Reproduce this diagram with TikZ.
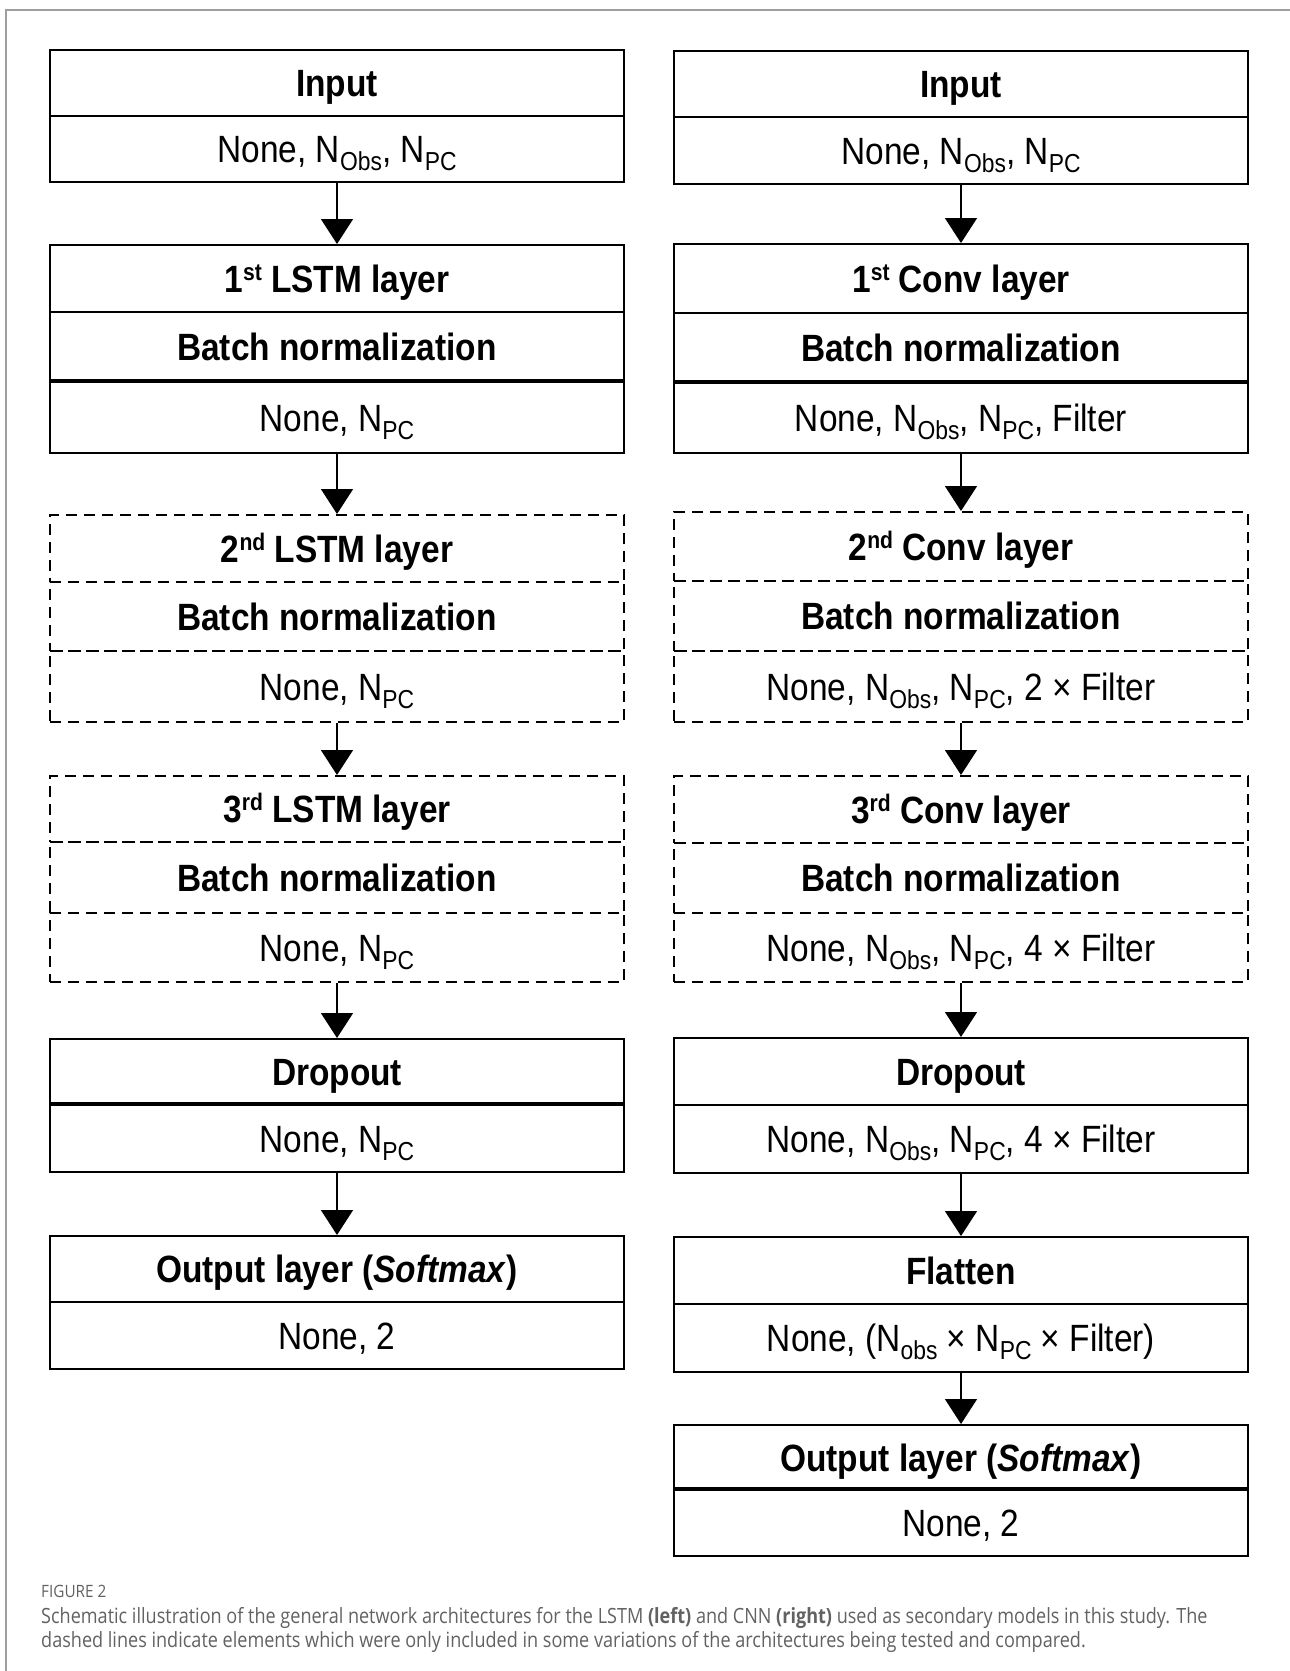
\documentclass[tikz,border=0pt]{standalone}
\usepackage{fontspec}
\setmainfont{Liberation Sans}[FakeStretch=0.88]
\newfontfamily\capfont{Open Sans}[FakeStretch=0.86]
\newfontfamily\figfont{Open Sans}[FakeStretch=0.9]
\usetikzlibrary{arrows.meta}
\newcommand{\mysub}[1]{\raisebox{-8pt}{\fontsize{26}{26}\selectfont #1}}
\newcommand{\mysup}[1]{\raisebox{12pt}{\fontsize{24}{24}\selectfont #1}}
\definecolor{capgray}{HTML}{626262}
\tikzset{
  cell/.style={draw, line width=2pt, inner sep=0pt, minimum width=574pt, anchor=north west,
    text height=30pt, text depth=3pt, align=center, font=\fontsize{38}{40}\selectfont},
  hd/.style={cell, font=\fontsize{38}{40}\selectfont\bfseries},
  dsh/.style={dash pattern=on 11pt off 7pt},
  divider/.style={line width=3.2pt},
  arr/.style={-{Triangle[width=32pt,length=25pt]}, line width=1.6pt},
  captext/.style={anchor=base west, inner sep=0pt, text=capgray, font=\capfont\fontsize{21}{24}\selectfont},
}
\begin{document}
\begin{tikzpicture}[x=1pt,y=-1pt]
\useasboundingbox (0,0) rectangle (1290,1671);
\draw[gray!75, line width=1.2pt] (6,1671) -- (6,10) -- (1290,10);

% ---------------- Left column (LSTM) ----------------
\node[hd, minimum height=66pt] (LIa) at (49,49) {Input};
\node[cell, minimum height=66pt] (LIb) at (49,115) {None, N\mysub{Obs}, N\mysub{PC}};

\node[hd, minimum height=67pt] (L1a) at (49,244) {1\mysup{st} LSTM layer};
\node[hd, minimum height=70pt] (L1b) at (49,311) {Batch normalization};
\node[cell, minimum height=71pt] (L1c) at (49,381) {None, N\mysub{PC}};
\draw[divider] (L1c.north west) -- (L1c.north east);

\node[hd, dsh, minimum height=67pt] (L2a) at (49,514) {2\mysup{nd} LSTM layer};
\node[hd, dsh, minimum height=69pt] (L2b) at (49,581) {Batch normalization};
\node[cell, dsh, minimum height=71pt] (L2c) at (49,650) {None, N\mysub{PC}};

\node[hd, dsh, minimum height=66pt] (L3a) at (49,775) {3\mysup{rd} LSTM layer};
\node[hd, dsh, minimum height=71pt] (L3b) at (49,841) {Batch normalization};
\node[cell, dsh, minimum height=69pt] (L3c) at (49,912) {None, N\mysub{PC}};

\node[hd, minimum height=66pt] (LDa) at (49,1038) {Dropout};
\node[cell, minimum height=67pt] (LDb) at (49,1104) {None, N\mysub{PC}};
\draw[divider] (LDb.north west) -- (LDb.north east);

\node[hd, minimum height=66pt] (LOa) at (49,1235) {Output layer (\textit{Softmax})};
\node[cell, minimum height=67pt] (LOb) at (49,1301) {None, 2};

\draw[arr] (LIb.south) -- (L1a.north);
\draw[arr] (L1c.south) -- (L2a.north);
\draw[arr] (L2c.south) -- (L3a.north);
\draw[arr] (L3c.south) -- (LDa.north);
\draw[arr] (LDb.south) -- (LOa.north);

% ---------------- Right column (CNN) ----------------
\node[hd, minimum height=66pt] (RIa) at (673,50) {Input};
\node[cell, minimum height=67pt] (RIb) at (673,116) {None, N\mysub{Obs}, N\mysub{PC}};

\node[hd, minimum height=69pt] (R1a) at (673,243) {1\mysup{st} Conv layer};
\node[hd, minimum height=70pt] (R1b) at (673,312) {Batch normalization};
\node[cell, minimum height=70pt] (R1c) at (673,382) {None, N\mysub{Obs}, N\mysub{PC}, Filter};
\draw[divider] (R1c.north west) -- (R1c.north east);

\node[hd, dsh, minimum height=69pt] (R2a) at (673,511) {2\mysup{nd} Conv layer};
\node[hd, dsh, minimum height=70pt] (R2b) at (673,580) {Batch normalization};
\node[cell, dsh, minimum height=71pt] (R2c) at (673,650) {None, N\mysub{Obs}, N\mysub{PC}, 2 × Filter};

\node[hd, dsh, minimum height=67pt] (R3a) at (673,775) {3\mysup{rd} Conv layer};
\node[hd, dsh, minimum height=70pt] (R3b) at (673,842) {Batch normalization};
\node[cell, dsh, minimum height=69pt] (R3c) at (673,912) {None, N\mysub{Obs}, N\mysub{PC}, 4 × Filter};

\node[hd, minimum height=67pt] (RDa) at (673,1037) {Dropout};
\node[cell, minimum height=68pt] (RDb) at (673,1104) {None, N\mysub{Obs}, N\mysub{PC}, 4 × Filter};

\node[hd, minimum height=67pt] (RFa) at (673,1236) {Flatten};
\node[cell, minimum height=68pt] (RFb) at (673,1303) {None, (N\mysub{obs} × N\mysub{PC} × Filter)};

\node[hd, minimum height=65pt] (ROa) at (673,1424) {Output layer (\textit{Softmax})};
\node[cell, minimum height=66pt] (ROb) at (673,1489) {None, 2};
\draw[divider] (ROb.north west) -- (ROb.north east);

\draw[arr] (RIb.south) -- (R1a.north);
\draw[arr] (R1c.south) -- (R2a.north);
\draw[arr] (R2c.south) -- (R3a.north);
\draw[arr] (R3c.south) -- (RDa.north);
\draw[arr] (RDb.south) -- (RFa.north);
\draw[arr] (RFb.south) -- (ROa.north);

% ---------------- Caption ----------------
\node[captext, font=\figfont\fontsize{17}{20}\selectfont] (c0) at (41,1597) {FIGURE 2};
\node[captext] (c1) at (41,1623) {Schematic illustration of the general network architectures for the LSTM \textbf{(left)} and CNN \textbf{(right)} used as secondary models in this study. The};
\node[captext] (c2) at (41,1647) {dashed lines indicate elements which were only included in some variations of the architectures being tested and compared.};
\end{tikzpicture}
\end{document}
